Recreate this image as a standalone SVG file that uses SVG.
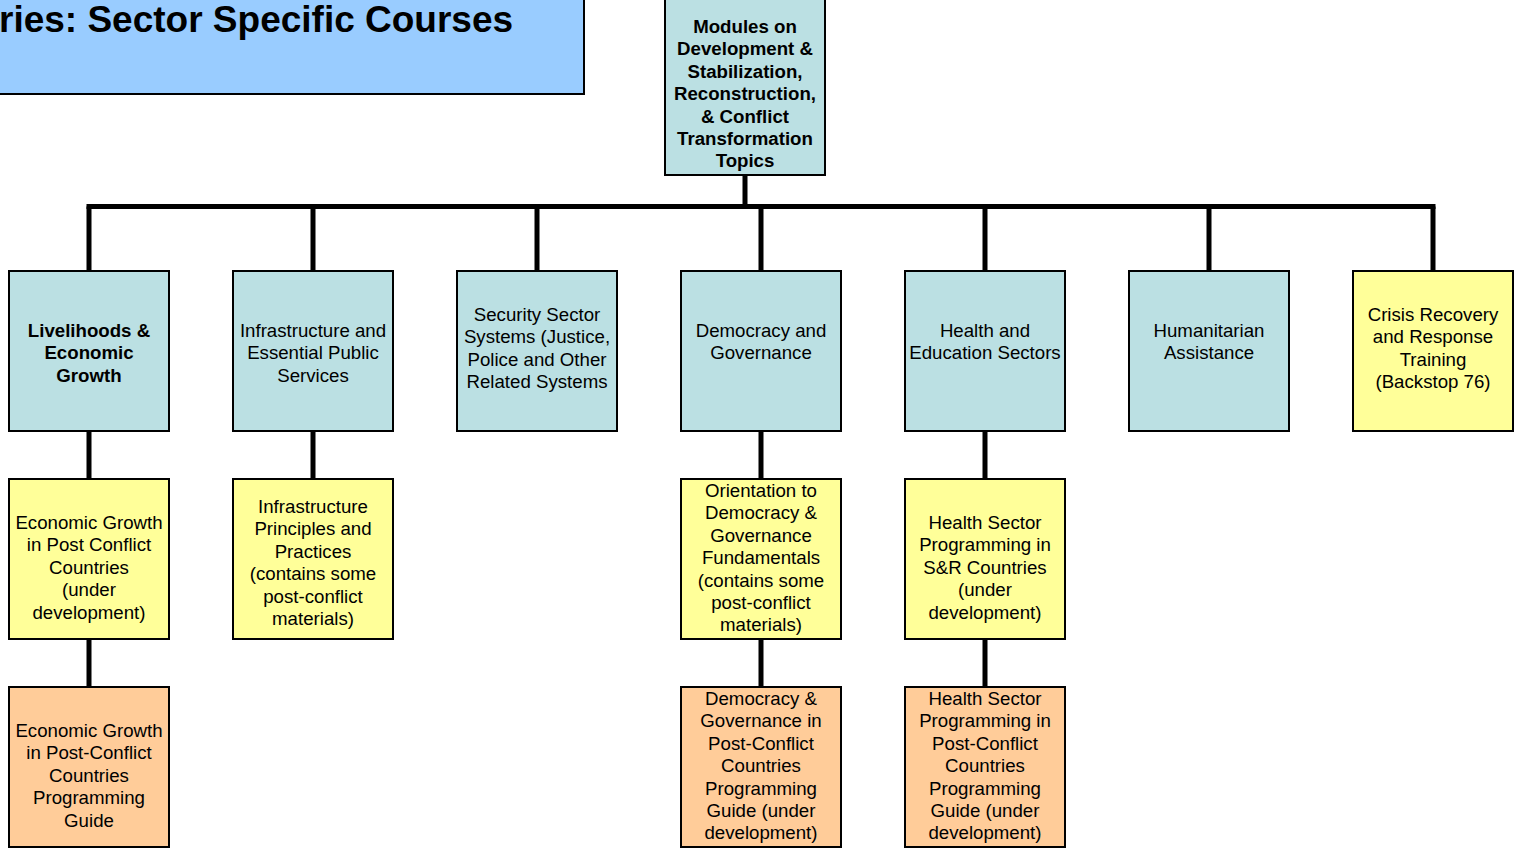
<svg xmlns="http://www.w3.org/2000/svg" width="1514" height="849" viewBox="0 0 1514 849">
<style>
.box{stroke:#000;stroke-width:2}
.teal{fill:#BBE0E3}
.yel{fill:#FFFF99}
.org{fill:#FFCC99}
text{font-family:"Liberation Sans",Arial,sans-serif;font-size:18.67px;fill:#000;text-anchor:middle}
.b{font-weight:bold}
.conn{stroke:#000;stroke-width:5;fill:none}
</style>
<rect width="1514" height="849" fill="#fff"/>
<g id="title">
<rect x="-5" y="-5" width="589" height="99" fill="#99CCFF" stroke="#000" stroke-width="2"/>
<text x="-1" y="32" style="font-size:37px;font-weight:bold;text-anchor:start">ries: Sector Specific Courses</text>
</g>
<g id="connectors">
<path class="conn" d="M745 176V206.5M86.5 206.5H1435.5"/>
<path class="conn" d="M89 206.5V270M313 206.5V270M537 206.5V270M761 206.5V270M985 206.5V270M1209 206.5V270M1433 206.5V270"/>
<path class="conn" d="M89 432V478M313 432V478M761 432V478M985 432V478M89 640V686M761 640V686M985 640V686"/>
</g>
<g id="root">
<rect class="box teal" x="665" y="-2" width="160" height="177"/>
<text class="b" x="745"><tspan x="745" y="33">Modules on</tspan><tspan x="745" y="55">Development &amp;</tspan><tspan x="745" y="78">Stabilization,</tspan><tspan x="745" y="100">Reconstruction,</tspan><tspan x="745" y="123">&amp; Conflict</tspan><tspan x="745" y="145">Transformation</tspan><tspan x="745" y="167">Topics</tspan></text>
</g>
<g id="n-livelihoods">
<rect class="box teal" x="9" y="271" width="160" height="160"/>
<text class="b"><tspan x="89" y="337">Livelihoods &amp;</tspan><tspan x="89" y="359">Economic</tspan><tspan x="89" y="382">Growth</tspan></text>
</g>
<g id="n-infrastructure">
<rect class="box teal" x="233" y="271" width="160" height="160"/>
<text><tspan x="313" y="337">Infrastructure and</tspan><tspan x="313" y="359">Essential Public</tspan><tspan x="313" y="382">Services</tspan></text>
</g>
<g id="n-security">
<rect class="box teal" x="457" y="271" width="160" height="160"/>
<text><tspan x="537" y="321">Security Sector</tspan><tspan x="537" y="343">Systems (Justice,</tspan><tspan x="537" y="366">Police and Other</tspan><tspan x="537" y="388">Related Systems</tspan></text>
</g>
<g id="n-democracy">
<rect class="box teal" x="681" y="271" width="160" height="160"/>
<text><tspan x="761" y="337">Democracy and</tspan><tspan x="761" y="359">Governance</tspan></text>
</g>
<g id="n-health">
<rect class="box teal" x="905" y="271" width="160" height="160"/>
<text><tspan x="985" y="337">Health and</tspan><tspan x="985" y="359">Education Sectors</tspan></text>
</g>
<g id="n-humanitarian">
<rect class="box teal" x="1129" y="271" width="160" height="160"/>
<text><tspan x="1209" y="337">Humanitarian</tspan><tspan x="1209" y="359">Assistance</tspan></text>
</g>
<g id="n-crisis">
<rect class="box yel" x="1353" y="271" width="160" height="160"/>
<text><tspan x="1433" y="321">Crisis Recovery</tspan><tspan x="1433" y="343">and Response</tspan><tspan x="1433" y="366">Training</tspan><tspan x="1433" y="388">(Backstop 76)</tspan></text>
</g>
<g id="n-econ-course">
<rect class="box yel" x="9" y="479" width="160" height="160"/>
<text><tspan x="89" y="529">Economic Growth</tspan><tspan x="89" y="551">in Post Conflict</tspan><tspan x="89" y="574">Countries</tspan><tspan x="89" y="596">(under</tspan><tspan x="89" y="619">development)</tspan></text>
</g>
<g id="n-infra-course">
<rect class="box yel" x="233" y="479" width="160" height="160"/>
<text><tspan x="313" y="513">Infrastructure</tspan><tspan x="313" y="535">Principles and</tspan><tspan x="313" y="558">Practices</tspan><tspan x="313" y="580">(contains some</tspan><tspan x="313" y="603">post-conflict</tspan><tspan x="313" y="625">materials)</tspan></text>
</g>
<g id="n-dg-course">
<rect class="box yel" x="681" y="479" width="160" height="160"/>
<text><tspan x="761" y="497">Orientation to</tspan><tspan x="761" y="519">Democracy &amp;</tspan><tspan x="761" y="542">Governance</tspan><tspan x="761" y="564">Fundamentals</tspan><tspan x="761" y="587">(contains some</tspan><tspan x="761" y="609">post-conflict</tspan><tspan x="761" y="631">materials)</tspan></text>
</g>
<g id="n-health-course">
<rect class="box yel" x="905" y="479" width="160" height="160"/>
<text><tspan x="985" y="529">Health Sector</tspan><tspan x="985" y="551">Programming in</tspan><tspan x="985" y="574">S&amp;R Countries</tspan><tspan x="985" y="596">(under</tspan><tspan x="985" y="619">development)</tspan></text>
</g>
<g id="n-econ-guide">
<rect class="box org" x="9" y="687" width="160" height="160"/>
<text><tspan x="89" y="737">Economic Growth</tspan><tspan x="89" y="759">in Post-Conflict</tspan><tspan x="89" y="782">Countries</tspan><tspan x="89" y="804">Programming</tspan><tspan x="89" y="827">Guide</tspan></text>
</g>
<g id="n-dg-guide">
<rect class="box org" x="681" y="687" width="160" height="160"/>
<text><tspan x="761" y="705">Democracy &amp;</tspan><tspan x="761" y="727">Governance in</tspan><tspan x="761" y="750">Post-Conflict</tspan><tspan x="761" y="772">Countries</tspan><tspan x="761" y="795">Programming</tspan><tspan x="761" y="817">Guide (under</tspan><tspan x="761" y="839">development)</tspan></text>
</g>
<g id="n-health-guide">
<rect class="box org" x="905" y="687" width="160" height="160"/>
<text><tspan x="985" y="705">Health Sector</tspan><tspan x="985" y="727">Programming in</tspan><tspan x="985" y="750">Post-Conflict</tspan><tspan x="985" y="772">Countries</tspan><tspan x="985" y="795">Programming</tspan><tspan x="985" y="817">Guide (under</tspan><tspan x="985" y="839">development)</tspan></text>
</g>
</svg>
